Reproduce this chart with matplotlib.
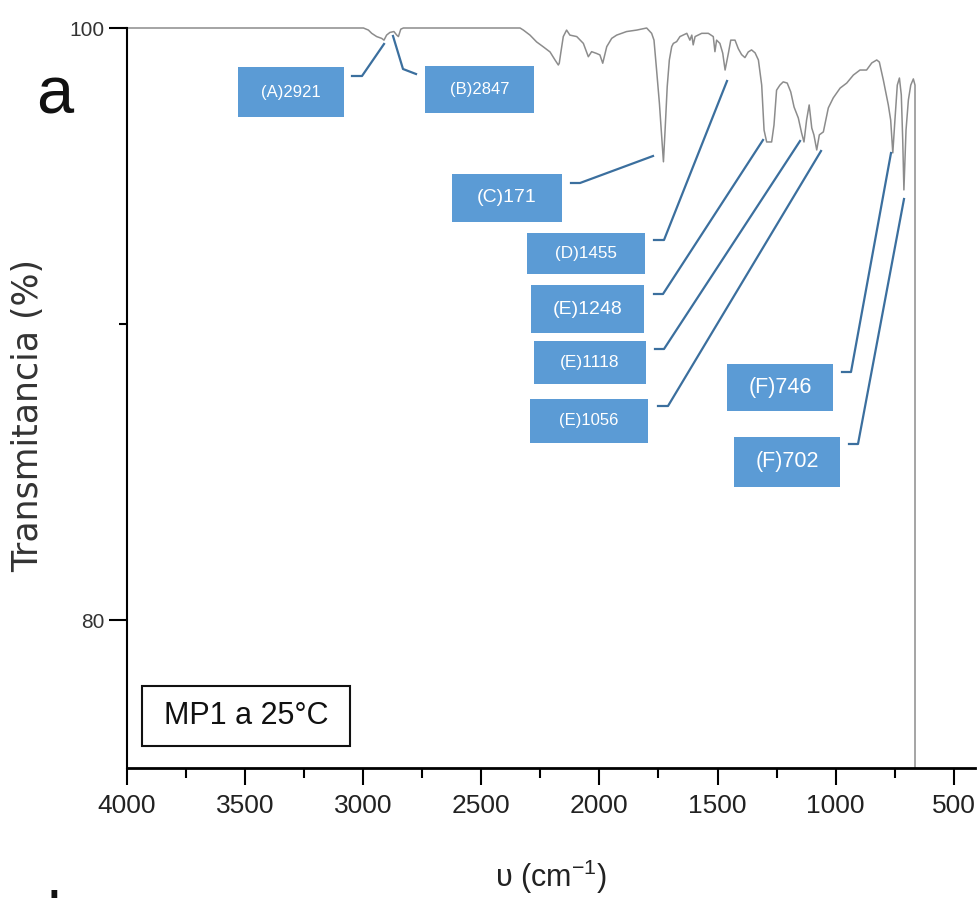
import matplotlib
matplotlib.use('Agg')
import matplotlib.pyplot as plt
from matplotlib.patches import Rectangle
from matplotlib.lines import Line2D

plt.rcParams['font.family'] = ['Liberation Sans', 'DejaVu Sans']
plt.rcParams['mathtext.fontset'] = 'custom'
plt.rcParams['mathtext.rm'] = 'Liberation Sans'
plt.rcParams['mathtext.default'] = 'rm'

# FTIR spectrum (wavenumber cm-1, transmittance %)
wavenumber = [4000, 2999, 2978, 2964, 2943, 2922, 2912, 2901, 2887, 2870, 2858,
              2851, 2841, 2830, 2336, 2322, 2294, 2266, 2237, 2209, 2188, 2174,
              2170, 2164, 2153, 2139, 2125, 2096, 2068, 2047, 2033, 2012, 1998,
              1986, 1969, 1948, 1927, 1885, 1842, 1800, 1779, 1769, 1758, 1746,
              1737, 1729, 1722, 1713, 1704, 1694, 1687, 1673, 1659, 1630, 1617,
              1609, 1603, 1595, 1567, 1539, 1518, 1511, 1504, 1490, 1478, 1468,
              1454, 1444, 1426, 1412, 1398, 1384, 1370, 1356, 1341, 1327, 1313,
              1303, 1292, 1271, 1261, 1250, 1236, 1222, 1205, 1190, 1176, 1158,
              1144, 1134, 1123, 1112, 1101, 1092, 1080, 1069, 1052, 1031, 1010,
              981, 953, 925, 897, 869, 847, 826, 815, 798, 777, 767, 758, 749,
              739, 730, 722, 716, 711, 702, 692, 682, 671, 664, 664]
transmittance = [100, 100, 99.93, 99.82, 99.71, 99.65, 99.59, 99.76, 99.85, 99.88, 99.76,
                 99.71, 99.96, 100, 100, 99.93, 99.76, 99.53, 99.36, 99.19, 98.92, 98.75,
                 98.81, 99.14, 99.71, 99.93, 99.76, 99.71, 99.48, 99.03, 99.2, 99.14, 99.09,
                 98.81, 99.37, 99.65, 99.76, 99.88, 99.93, 100, 99.82, 99.59, 98.58, 97.45,
                 96.4, 95.48, 96.55, 98.02, 98.92, 99.37, 99.48, 99.54, 99.71, 99.82, 99.59,
                 99.76, 99.43, 99.71, 99.82, 99.82, 99.71, 99.2, 99.59, 99.48, 99.15, 98.58,
                 99.15, 99.59, 99.59, 99.3, 99.1, 99.0, 99.19, 99.26, 99.16, 98.92, 98.07,
                 96.55, 96.15, 96.15, 96.72, 97.9, 98.07, 98.18, 98.14, 97.84, 97.33, 96.96,
                 96.45, 96.15, 96.89, 97.4, 96.62, 96.39, 95.88, 96.39, 96.49, 97.3, 97.64,
                 97.97, 98.14, 98.41, 98.58, 98.58, 98.82, 98.92, 98.85, 98.24, 97.4, 96.89, 95.78, 96.89,
                 98.07, 98.31, 97.74, 96.22, 94.53, 96.55, 97.57, 98.07, 98.28, 98.07, 75]

# band labels and their callout layout (figure pixels)
band_labels = ['(A)2921', '(B)2847', '(C)171', '(D)1455', '(E)1248',
               '(E)1118', '(E)1056', '(F)746', '(F)702']
label_sizes = [12, 12, 14, 12.3, 14, 12.5, 12, 15.5, 15.5]
boxes = [(238, 67, 344, 117), (425, 66, 534, 113), (452, 174, 562, 222),
         (527, 233, 645, 274), (531, 285, 644, 333), (534, 341, 646, 384),
         (530, 399, 648, 443), (727, 364, 833, 411), (734, 437, 840, 487)]
leaders = [[(352, 76), (362, 76), (384, 44)],
           [(416, 74), (403, 69), (393, 36)],
           [(571, 183), (580, 183), (653, 156)],
           [(654, 240), (664, 240), (727, 81)],
           [(654, 294), (663, 294), (763, 140)],
           [(655, 349), (664, 349), (800, 141)],
           [(658, 406), (668, 406), (821, 151)],
           [(842, 372), (851, 372), (891, 153)],
           [(849, 444), (858, 444), (904, 199)]]

W, H = 978, 898
fig = plt.figure(figsize=(W / 100, H / 100), dpi=100)
ax = fig.add_axes([127 / W, 1 - 768 / H, (975 - 127) / W, (768 - 28) / H])

ax.plot(wavenumber, transmittance, color='#8c8c8c', lw=1.1, clip_on=False)
ax.set_xlim(4000, 410)
ax.set_ylim(75, 100)

ax.spines['top'].set_visible(False)
ax.spines['right'].set_visible(False)
ax.spines['left'].set_linewidth(1.5)
ax.spines['bottom'].set_linewidth(2)

ax.set_xticks(range(4000, 499, -500))
ax.set_xticks(range(3750, 700, -500), minor=True)
ax.set_yticks([80, 100])
ax.set_yticks([90], minor=True)
ax.tick_params(axis='x', which='major', length=12, width=1.5, pad=7,
               labelsize=19, labelcolor='#222222')
ax.tick_params(axis='x', which='minor', length=7, width=1.5)
ax.tick_params(axis='y', which='major', length=13, width=1.5, pad=3,
               labelsize=15, labelcolor='#333333')
ax.tick_params(axis='y', which='minor', length=6, width=1.5)

ax.set_ylabel('Transmitancia (%)', fontsize=25, color='#333333',
              family=['DejaVu Sans'])
ax.yaxis.set_label_coords(-0.097, 0.477)
ax.set_xlabel('υ (cm$^{-1}$)', fontsize=22, color='#222222', labelpad=28)

# sample box
fig.patches.append(Rectangle((142 / W, 1 - 746 / H), 208 / W, 60 / H,
                             transform=fig.transFigure, facecolor='white',
                             edgecolor='#111111', lw=1.5, zorder=3))
fig.text(246 / W, 1 - 716 / H, 'MP1 a 25°C', fontsize=22, ha='center',
         va='center', color='#111111', zorder=4)

# callouts
for text, size, (x0, y0, x1, y1), pts in zip(band_labels, label_sizes, boxes, leaders):
    fig.patches.append(Rectangle((x0 / W, 1 - y1 / H), (x1 - x0) / W, (y1 - y0) / H,
                                 transform=fig.transFigure, facecolor='#5b9bd5',
                                 edgecolor='none', zorder=3))
    fig.text((x0 + x1) / 2 / W, 1 - (y0 + y1) / 2 / H, text, fontsize=size,
             color='white', ha='center', va='center', zorder=4)
    fig.lines.append(Line2D([p[0] / W for p in pts], [1 - p[1] / H for p in pts],
                            transform=fig.transFigure, color='#3b6f9e', lw=1.6,
                            zorder=3))

fig.text(55 / W, 1 - 113 / H, 'a', fontsize=48, ha='center', va='baseline',
         color='#111111')
fig.text(47 / W, 1 - 889 / H, 'b', fontsize=48, ha='left', va='top',
         color='#111111')

fig.savefig('out.png', dpi=100)
